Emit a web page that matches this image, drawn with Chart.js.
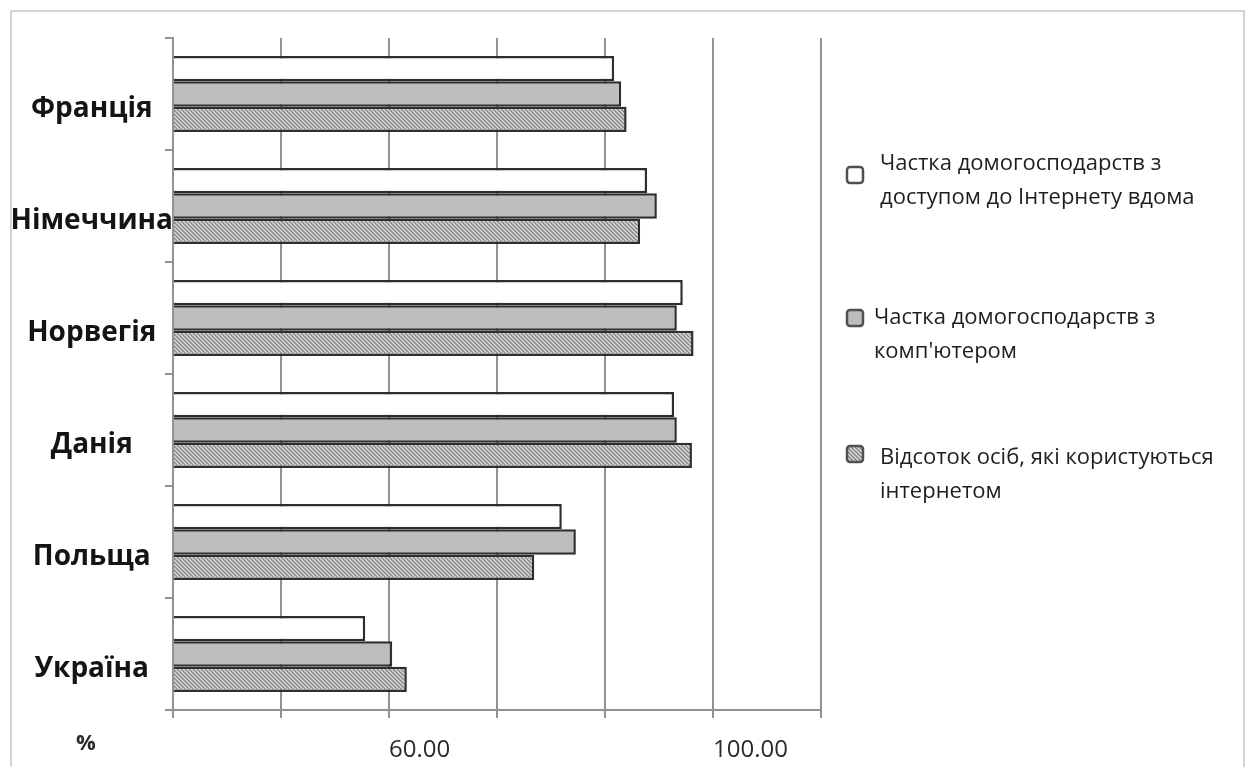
<!DOCTYPE html>
<html lang="uk">
<head>
<meta charset="utf-8">
<title>Інтернет і комп'ютери в домогосподарствах</title>
<script src="https://cdn.jsdelivr.net/npm/chart.js@4.4.1/dist/chart.umd.min.js"></script>
<style>
    html, body { margin: 0; padding: 0; background: #fff; }
    #wrap { position: relative; width: 1246px; height: 767px; overflow: hidden; }
    #frame {
        position: absolute; left: 10px; top: 10px; right: 1px; bottom: -10px;
        border: 2px solid #d4d4d4; pointer-events: none;
    }
</style>
</head>
<body>
<div id="wrap">
    <canvas id="chart" width="1246" height="767"></canvas>
    <div id="frame"></div>
</div>
<script>
"use strict";

const countries = ['Франція', 'Німеччина', 'Норвегія', 'Данія', 'Польща', 'Україна'];

const internetAtHome = [81.7, 87.8, 94.4, 92.8, 72.0, 35.6];
const withComputer = [83.0, 89.6, 93.3, 93.3, 74.6, 40.6];
const internetUsers = [84.0, 86.5, 96.4, 96.1, 66.9, 43.3];

const seriesLabels = [
    ['Частка домогосподарств з', 'доступом до Інтернету вдома'],
    ['Частка домогосподарств з', "комп'ютером"],
    ['Відсоток осіб, які користуються', 'інтернетом']
];

// the axis shows labels only under two of the gridlines (as in the source picture)
const xTickLabels = ['', '', '60.00', '', '', '100.00', ''];
const axisUnit = '%';

const FONT = "'Open Sans', 'Noto Sans', sans-serif";

// hatched fill for the third series
const makeHatch = () => {
    const c = document.createElement('canvas');
    c.width = 4;
    c.height = 4;
    const g = c.getContext('2d');
    g.fillStyle = '#dedede';
    g.fillRect(0, 0, 4, 4);
    g.strokeStyle = '#858585';
    g.lineWidth = 1.5;
    g.beginPath();
    g.moveTo(0, 0); g.lineTo(4, 4);
    g.moveTo(-1, 3); g.lineTo(1, 5);
    g.moveTo(3, -1); g.lineTo(5, 1);
    g.stroke();
    return g.createPattern(c, 'repeat');
};

const fills = ['#ffffff', '#bdbdbd', makeHatch()];

// side legend with two-line labels, drawn on the canvas
const sideLegend = {
    id: 'sideLegend',
    afterDraw(chart, args, opts) {
        const { ctx, chartArea } = chart;
        ctx.save();
        chart.data.datasets.forEach((ds, i) => {
            const y = opts.rows[i];
            const bx = chartArea.right + 26;
            ctx.fillStyle = ds.backgroundColor;
            ctx.strokeStyle = '#505050';
            ctx.lineWidth = 2.5;
            ctx.beginPath();
            ctx.roundRect(bx, y + opts.boxShift[i] - 8, 16, 16, 3);
            ctx.fill();
            ctx.stroke();

            ctx.fillStyle = '#1e1e1e';
            ctx.font = `22px ${FONT}`;
            ctx.textBaseline = 'middle';
            ctx.textAlign = 'left';
            seriesLabels[i].forEach((line, k) => {
                ctx.fillText(line, chartArea.right + opts.textShift[i], y + k * 34);
            });
        });

        // unit sign under the category labels
        ctx.font = `bold 22px ${FONT}`;
        ctx.fillStyle = '#2a2a2a';
        ctx.textAlign = 'center';
        ctx.textBaseline = 'middle';
        ctx.fillText(axisUnit, 86, 744);
        ctx.restore();
    }
};

const chart = new Chart(document.getElementById('chart'), {
    type: 'bar',
    data: {
        labels: countries,
        datasets: [internetAtHome, withComputer, internetUsers].map((values, i) => ({
            label: seriesLabels[i].join(' '),
            data: values,
            backgroundColor: fills[i],
            borderColor: '#2e2e2e',
            borderWidth: 2.5,
            borderSkipped: 'start',
            categoryPercentage: 0.68,
            barPercentage: 1.0
        }))
    },
    options: {
        indexAxis: 'y',
        responsive: false,
        animation: false,
        layout: { padding: { top: 38, right: 425, left: 0, bottom: 0 } },
        plugins: {
            legend: { display: false },
            tooltip: { enabled: false },
            sideLegend: {
                rows: [164, 318, 458],
                boxShift: [11, 0, -4],
                textShift: [59, 53, 59]
            }
        },
        scales: {
            x: {
                min: 0,
                max: 120,
                afterFit: scale => { scale.height = 57; },
                ticks: {
                    stepSize: 20,
                    align: 'start',
                    padding: 18,
                    color: '#2a2a2a',
                    font: { family: FONT, size: 24 },
                    callback: (v, i) => xTickLabels[i]
                },
                grid: { color: '#929292', lineWidth: 2, tickLength: 8 },
                border: { color: '#929292', width: 2 }
            },
            y: {
                afterFit: scale => { scale.width = 173; },
                ticks: {
                    crossAlign: 'center',
                    padding: -8,
                    labelOffset: 15,
                    color: '#141414',
                    font: { family: FONT, size: 28, weight: 'bold' }
                },
                grid: { drawOnChartArea: false, color: '#929292', lineWidth: 2, tickLength: 8 },
                border: { color: '#929292', width: 2 }
            }
        }
    },
    plugins: [sideLegend]
});
</script>
</body>
</html>
